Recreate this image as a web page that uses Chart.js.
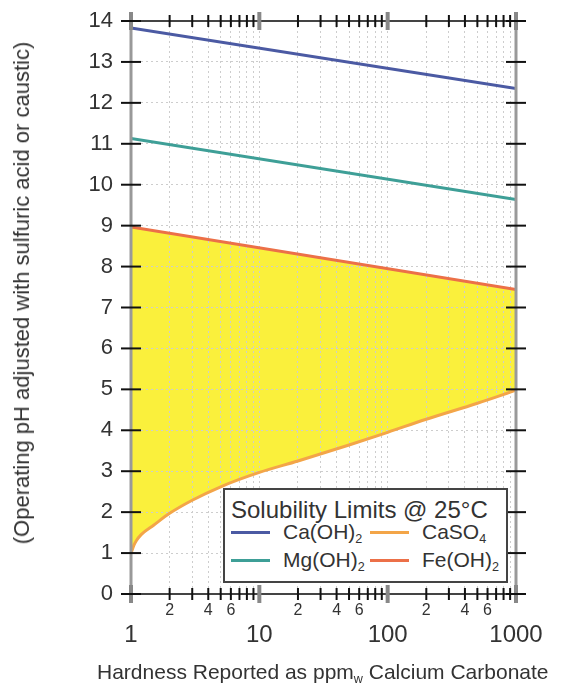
<!DOCTYPE html>
<html>
<head>
<meta charset="utf-8">
<script src="https://cdn.jsdelivr.net/npm/chart.js@4/dist/chart.umd.min.js"></script>
<style>
  body { margin: 0; background: #fff; font-family: "Liberation Sans", Arial, sans-serif; }
  #wrap { position: relative; width: 567px; height: 690px; }
  #legend {
    position: absolute; left: 223px; top: 488px; width: 281px; height: 91px;
    border: 2px solid #444; background: #fff; color: #333;
  }
  #legend .title { position: absolute; left: 6px; top: 6px; font-size: 24px; line-height: 28px; white-space: nowrap; }
  #legend .item { position: absolute; height: 28px; width: 139px; }
  #legend .swatch { position: absolute; left: 0; top: 13px; width: 39px; height: 3px; }
  #legend .label { position: absolute; left: 52px; top: 0; font-size: 21px; line-height: 28px; white-space: nowrap; }
  sub { font-size: 0.6em; vertical-align: -0.35em; line-height: 0; }
  #xtitle { position: absolute; left: 97px; top: 659px; font-size: 21px; line-height: 26px; color: #333; white-space: nowrap; }
  #ytitle {
    position: absolute; left: 22px; top: 293px; font-size: 22px; line-height: 26px; color: #333;
    white-space: nowrap; transform: translate(-50%, -50%) rotate(-90deg);
  }
</style>
</head>
<body>
<div id="wrap">
  <canvas id="chart" width="567" height="690"></canvas>
  <div id="legend"></div>
  <div id="ytitle">(Operating pH adjusted with sulfuric acid or caustic)</div>
  <div id="xtitle">Hardness Reported as ppm<sub>w</sub> Calcium Carbonate</div>
</div>
<script>
// hardness (ppm as CaCO3) and pH limits
const lineHardness = [1, 1000];
const caOH2 = [13.83, 12.35];
const mgOH2 = [11.13, 9.64];
const feOH2 = [8.97, 7.44];

const caso4Hardness = [1, 1.05, 1.1, 1.2, 1.5, 2, 3, 5, 10, 20, 50, 100, 200, 500, 1000];
const caso4 = [0.99, 1.18, 1.3, 1.45, 1.68, 1.97, 2.29, 2.62, 2.97, 3.25, 3.64, 3.95, 4.27, 4.66, 4.98];

const xMajor = [1, 10, 100, 1000];
const xMantissas = [1, 2, 3, 4, 5, 6, 7, 8, 9];
const xMinorLabels = [2, 4, 6];

const seriesNames = ['Ca(OH)2', 'Mg(OH)2', 'Fe(OH)2', 'CaSO4'];
const seriesColors = ['#4b5aa3', '#3e9f97', '#ec7048', '#f3a548'];
const fillColor = '#faf03c';

Chart.defaults.font.family = '"Liberation Sans", Arial, sans-serif';
Chart.defaults.color = '#333';

function toPoints(xs, ys) {
    return xs.map((x, i) => ({ x: x, y: ys[i] }));
}

function isDecade(v) {
    const l = Math.log10(v);
    return Math.abs(l - Math.round(l)) < 1e-9;
}

// 1..9 in every decade, then the last decade value
const xTickValues = [];
xMajor.slice(0, -1).forEach(d => xMantissas.forEach(m => xTickValues.push(d * m)));
xTickValues.push(xMajor[xMajor.length - 1]);

// axis frame with ticks crossing the lines on all four sides
const framePlugin = {
    id: 'frame',
    afterDatasetsDraw(chart) {
        const { ctx, chartArea: a, scales: { x, y } } = chart;
        const line = (x1, y1, x2, y2) => {
            ctx.beginPath(); ctx.moveTo(x1, y1); ctx.lineTo(x2, y2); ctx.stroke();
        };
        ctx.save();
        ctx.strokeStyle = '#999';
        ctx.lineWidth = 3;
        line(a.left, a.top - 8, a.left, a.bottom + 3);
        line(a.right, a.top - 3, a.right, a.bottom + 3);

        ctx.strokeStyle = '#444';
        ctx.lineWidth = 2;
        line(a.left - 9, a.top, a.right + 10, a.top);
        line(a.left - 9, a.bottom, a.right + 10, a.bottom);

        x.ticks.forEach(t => {
            const px = x.getPixelForValue(t.value);
            const major = isDecade(t.value);
            ctx.strokeStyle = major ? '#888' : '#111';
            ctx.lineWidth = major ? 4 : 2;
            const h = major ? 9 : 6;
            line(px, a.top - h, px, a.top + h);
            line(px, a.bottom - h, px, a.bottom + h);
        });

        ctx.strokeStyle = '#111';
        ctx.lineWidth = 2;
        y.ticks.forEach(t => {
            const py = y.getPixelForValue(t.value);
            line(a.left - 10, py, a.left + 10, py);
            line(a.right - 10, py, a.right + 10, py);
        });
        ctx.restore();
    }
};

const datasets = [
    { data: toPoints(lineHardness, caOH2) },
    { data: toPoints(lineHardness, mgOH2) },
    { data: toPoints(lineHardness, feOH2) },
    { data: toPoints(caso4Hardness, caso4), fill: 2, backgroundColor: fillColor, cubicInterpolationMode: 'monotone' }
].map((d, i) => Object.assign({
    label: seriesNames[i],
    borderColor: seriesColors[i],
    borderWidth: 3,
    pointRadius: 0,
    fill: false
}, d));

const gridStyle = { color: '#cdcdcd', lineWidth: 1, drawTicks: false };

new Chart(document.getElementById('chart').getContext('2d'), {
    type: 'line',
    data: { datasets: datasets },
    options: {
        responsive: false,
        animation: false,
        devicePixelRatio: 1,
        layout: { padding: { left: 0, right: 51, top: 21, bottom: 0 } },
        plugins: {
            legend: { display: false },
            tooltip: { enabled: false },
            filler: { drawTime: 'beforeDraw' }
        },
        scales: {
            x: {
                type: 'logarithmic',
                min: 1,
                max: 1000,
                border: { display: false, dash: [2, 3] },
                grid: gridStyle,
                afterBuildTicks: s => { s.ticks = xTickValues.map(v => ({ value: v })); },
                afterFit: s => { s.height = 96; s.paddingLeft = 0; s.paddingRight = 0; },
                ticks: {
                    autoSkip: false,
                    maxRotation: 0,
                    minRotation: 0,
                    padding: 5,
                    color: '#333',
                    font: c => isDecade(c.tick.value) ? { size: 24, lineHeight: 1.0 } : { size: 16, lineHeight: 1.4 },
                    callback: v => {
                        if (isDecade(v)) return ['', String(Math.round(v))];
                        const m = Math.round(v / Math.pow(10, Math.floor(Math.log10(v) + 1e-9)));
                        return xMinorLabels.includes(m) ? String(m) : '';
                    }
                }
            },
            y: {
                min: 0,
                max: 14,
                border: { display: false, dash: [2, 3] },
                grid: gridStyle,
                afterFit: s => { s.width = 131; s.paddingTop = 0; s.paddingBottom = 0; },
                ticks: { stepSize: 1, padding: 18, font: { size: 22 }, color: '#333' }
            }
        }
    },
    plugins: [framePlugin]
});

// legend: two columns, Ca(OH)2 / Mg(OH)2 left, CaSO4 / Fe(OH)2 right
const legend = document.getElementById('legend');
legend.innerHTML = '<div class="title">Solubility Limits @ 25°C</div>';
const legendOrder = [0, 3, 1, 2];
legendOrder.forEach((idx, k) => {
    const item = document.createElement('div');
    item.className = 'item';
    item.style.left = (6 + (k % 2) * 139) + 'px';
    item.style.top = (28 + Math.floor(k / 2) * 28) + 'px';
    const html = seriesNames[idx].replace(/(\d)/g, '<sub>$1</sub>');
    item.innerHTML = '<div class="swatch" style="background:' + seriesColors[idx] + '"></div>' +
        '<div class="label">' + html + '</div>';
    legend.appendChild(item);
});
</script>
</body>
</html>
